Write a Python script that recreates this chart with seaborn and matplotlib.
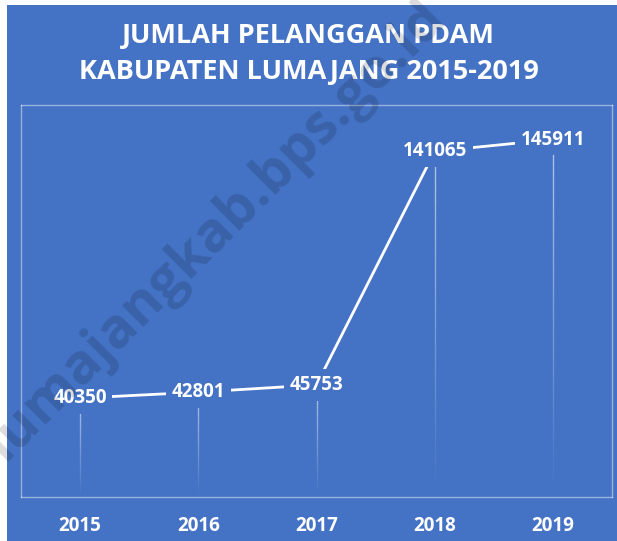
import numpy as np
import pandas as pd
import matplotlib
matplotlib.use("Agg")
import matplotlib.pyplot as plt
import seaborn as sns
from matplotlib.patches import Rectangle
from matplotlib.collections import LineCollection

# Data
years = ["2015", "2016", "2017", "2018", "2019"]
customers = [40350, 42801, 45753, 141065, 145911]
title_lines = ["JUMLAH PELANGGAN PDAM", "KABUPATEN LUMAJANG 2015-2019"]

BG = "#4472C4"
FONT = ["Open Sans", "DejaVu Sans"]

sns.set_style("white")
plt.rcParams["font.family"] = FONT

df = pd.DataFrame({"Tahun": years, "Pelanggan": customers})

fig = plt.figure(figsize=(6.17, 5.41), dpi=100, facecolor="white")
# blue chart panel with a thin white strip left and top
fig.patches.append(Rectangle((7 / 617, 0), 1, 1 - 5 / 541, transform=fig.transFigure,
                             facecolor=BG, edgecolor="none", zorder=-5))

ax = fig.add_axes([21 / 617, 1 - 497 / 541, 591 / 617, 392 / 541])
ax.set_facecolor(BG)

# faded drop lines from each point down to the axis
for i, v in enumerate(customers):
    ys = np.linspace(0, v, 40)
    segs = [[(i, ys[k]), (i, ys[k + 1])] for k in range(len(ys) - 1)]
    alphas = np.linspace(0.0, 0.6, len(segs))
    cols = [(1, 1, 1, a) for a in alphas]
    ax.add_collection(LineCollection(segs, colors=cols, linewidths=1.0, zorder=1))

sns.lineplot(data=df, x="Tahun", y="Pelanggan", color="white", linewidth=2.0,
             ax=ax, zorder=2)

for i, v in enumerate(customers):
    ax.text(i, v, str(v), color="white", fontsize=13.5, fontweight="bold",
            ha="center", va="center", zorder=3,
            bbox=dict(boxstyle="square,pad=0.3", facecolor=BG, edgecolor="none"))

ax.set_xlim(-0.5, len(years) - 0.5)
ax.set_ylim(0, 160000)
ax.set_yticks([])
ax.set_xlabel("")
ax.set_ylabel("")
ax.tick_params(axis="x", length=0, pad=14, labelsize=13.5, labelcolor="white")
for lbl in ax.get_xticklabels():
    lbl.set_fontweight("bold")
for sp in ax.spines.values():
    sp.set_visible(True)
    sp.set_color((1, 1, 1, 0.45))
    sp.set_linewidth(1.0)

fig.text(0.5, 1 - 36 / 541, title_lines[0], color="white", fontsize=19.5,
         fontweight="bold", ha="center", va="center")
fig.text(0.5, 1 - 72 / 541, title_lines[1], color="white", fontsize=19.5,
         fontweight="bold", ha="center", va="center")

# watermark
fig.text(215 / 617, 1 - 230 / 541, "lumajangkab.bps.go.id", color=(0, 0, 0, 0.14),
         fontsize=40, fontweight="bold", rotation=45, ha="center", va="center",
         zorder=5)

fig.savefig("out.png", dpi=100, facecolor=fig.get_facecolor())
